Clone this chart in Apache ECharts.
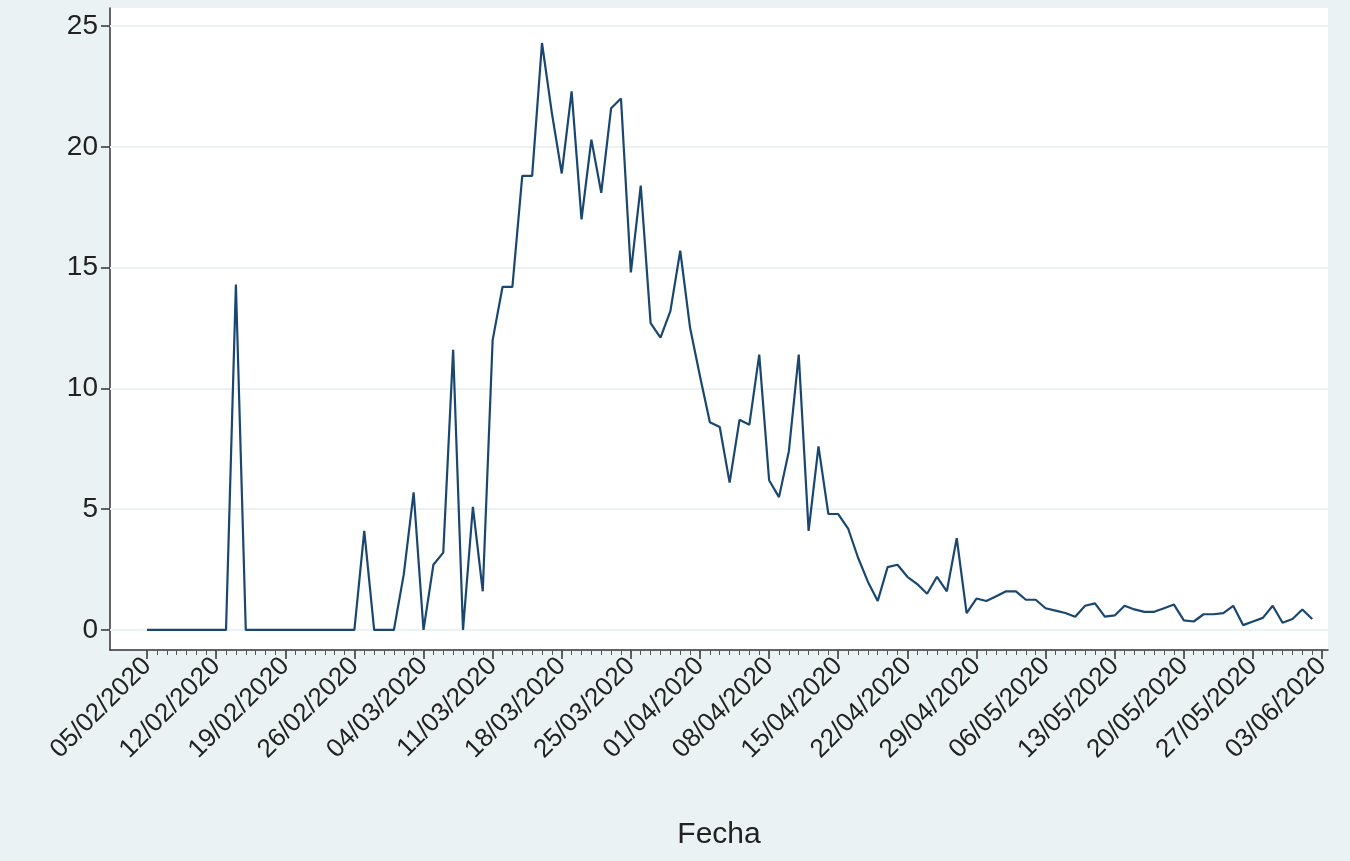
<!DOCTYPE html><html><head><meta charset="utf-8"><script src="https://cdn.jsdelivr.net/npm/echarts@6/dist/echarts.min.js"></script>
<style>html,body{margin:0;padding:0;background:#fff}#c{width:1350px;height:861px}</style></head><body><div id="c"></div><script>
const startDate = [2020, 2, 5];
const values = [0,0,0,0,0,0,0,0,0,14.3,0,0,0,0,0,0,0,0,0,0,0,0,4.1,0,0,0,2.3,5.7,
0,2.7,3.2,11.6,0,5.1,1.6,12.0,14.2,14.2,18.8,18.8,24.3,21.4,18.9,22.3,17.0,20.3,18.1,21.6,
22.0,14.8,18.4,12.7,12.1,13.2,15.7,12.5,10.5,8.6,8.4,6.1,8.7,8.5,11.4,6.2,5.5,7.4,11.4,4.1,
7.6,4.8,4.8,4.2,3.0,2.0,1.2,2.6,2.7,2.2,1.9,1.5,2.2,1.6,3.8,0.7,1.3,1.2,1.4,1.6,1.6,1.25,
1.25,0.9,0.8,0.7,0.55,1.0,1.1,0.55,0.6,1.0,0.85,0.75,0.75,0.9,1.05,0.4,0.35,0.65,0.65,0.7,1.0,
0.2,0.35,0.5,1.0,0.3,0.45,0.85,0.45];
const tickDays = [0,7,14,21,28,35,42,49,56,63,70,77,84,91,98,105,112,119];
const yTicks = [0,5,10,15,20,25];
function fmt(d){const t=new Date(Date.UTC(startDate[0],startDate[1]-1,startDate[2]+d));
 const p=n=>String(n).padStart(2,'0');return p(t.getUTCDate())+'/'+p(t.getUTCMonth()+1)+'/'+t.getUTCFullYear();}
const data = values.map((v,i)=>[i,v]);
const allDays=[];for(let i=0;i<=119;i++)allDays.push(i);
const c=echarts.init(document.getElementById('c'));
const xmin=-3.75,xmax=119.6;
c.setOption({backgroundColor:'#eaf2f3',animation:false,
grid:{left:110,right:22,top:8,bottom:211,outerBoundsMode:'none',containLabel:false,show:true,backgroundColor:'#fff',borderWidth:0},
xAxis:[{type:'value',min:xmin,max:xmax,name:'Fecha',nameLocation:'middle',nameGap:170,
 nameTextStyle:{fontSize:30,color:'#222',fontFamily:'Liberation Sans'},
 axisLine:{onZero:false,lineStyle:{color:'#333',width:1.5}},splitLine:{show:false},
 axisTick:{customValues:tickDays,length:9,lineStyle:{color:'#333',width:1.5}},
 axisLabel:{customValues:tickDays,formatter:v=>fmt(v),rotate:45,fontSize:26,color:'#222',margin:12,fontFamily:'Liberation Sans'}},
 {type:'value',min:xmin,max:xmax,position:'bottom',axisLine:{show:false,onZero:false},splitLine:{show:false},
 axisTick:{customValues:allDays,length:5,lineStyle:{color:'#555'}},axisLabel:{show:false}}],
yAxis:{type:'value',min:-0.83,max:25.75,
 axisLine:{show:true,onZero:false,lineStyle:{color:'#333',width:1.5}},
 axisTick:{show:true,customValues:yTicks,length:9,lineStyle:{color:'#333',width:1.5}},
 axisLabel:{customValues:yTicks,fontSize:28,color:'#222',margin:12,fontFamily:'Liberation Sans'},
 splitLine:{show:false}},
series:[{type:'line',z:5,data:data,symbol:'none',lineStyle:{color:'#1a476f',width:2.2}},
 {type:'line',z:1,xAxisIndex:1,data:[],markLine:{silent:true,z:1,symbol:'none',label:{show:false},lineStyle:{color:'#eaf2f3',width:2,type:'solid'},data:yTicks.map(y=>({yAxis:y}))}}]});
</script></body></html>
